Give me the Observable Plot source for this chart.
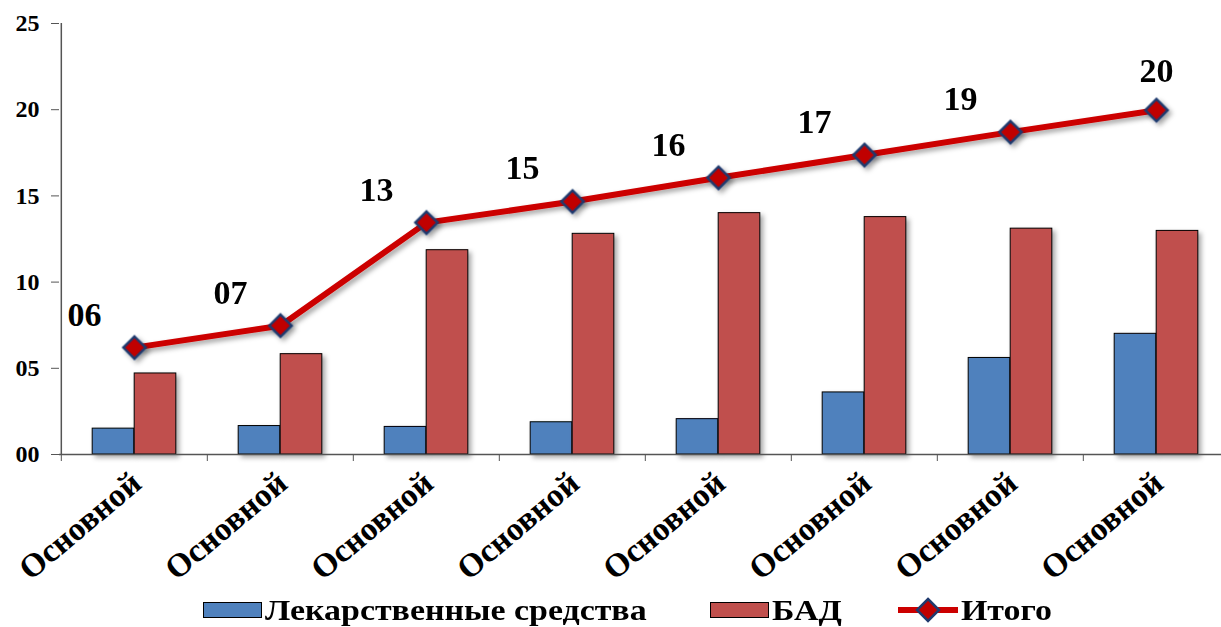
<!DOCTYPE html>
<html>
<head>
<meta charset="utf-8">
<script src="https://cdn.jsdelivr.net/npm/d3@7"></script>
<script src="https://cdn.jsdelivr.net/npm/@observablehq/plot@0.6"></script>
</head>
<body style="margin:0;padding:0;background:#fff">
<div id="chart" style="width:1221px;height:627px;position:relative;overflow:hidden"></div>
<script>
// Category labels (all bars share the same label)
const categories = ["Основной", "Основной", "Основной", "Основной", "Основной", "Основной", "Основной", "Основной"];
// Лекарственные средства
const drugs = [1.5, 1.65, 1.6, 1.87, 2.05, 3.6, 5.6, 7.0];
// БАД
const supplements = [4.7, 5.82, 11.85, 12.8, 14.0, 13.77, 13.1, 12.97];
// Итого = сумма двух рядов
const totals = drugs.map((d, i) => d + supplements[i]);
const yTicks = [0, 5, 10, 15, 20, 25];
const seriesNames = ["Лекарственные средства", "БАД", "Итого"];

const W = 1221, H = 592;
const ML = 59, MR = -9, MT = 23, MB = H - 454;
const band = (W - ML - MR) / categories.length;
const barW = 42;
const FONT = "'Liberation Serif', 'Times New Roman', serif";

const idx = d3.range(categories.length);
const rows = idx.map(i => ({i, drugs: drugs[i], supplements: supplements[i], total: totals[i]}));
const fmt2 = d3.format("02.0f");

const plot = Plot.plot({
  width: W, height: H,
  marginLeft: ML, marginRight: MR, marginTop: MT, marginBottom: MB,
  style: {color: "#000", background: "transparent"},
  x: {type: "band", domain: idx, padding: 0, axis: null, label: null},
  y: {domain: [0, 25], axis: null, label: null},
  marks: [
    // bars
    Plot.barY(rows, {x: "i", y: "drugs", fill: "#4f81bd", stroke: "#000", strokeWidth: 1,
      insetLeft: band / 2 - barW, insetRight: band / 2}),
    Plot.barY(rows, {x: "i", y: "supplements", fill: "#c0504d", stroke: "#000", strokeWidth: 1,
      insetLeft: band / 2, insetRight: band / 2 - barW}),
    // axes
    Plot.ruleY([0], {stroke: "#555", strokeWidth: 1.5}),
    Plot.ruleX([0], {x: d => d, y1: 0, y2: 25, dx: -band / 2, stroke: "#555", strokeWidth: 1.5}),
    Plot.axisY({ticks: yTicks, tickFormat: d3.format("02d"), tickSize: 8, tickPadding: 12,
      fontSize: 24, stroke: "#555", label: null}),
    Plot.axisX({tickSize: 7, text: null, dx: -band / 2, stroke: "#555", label: null}),
    Plot.axisX({tickSize: 0, tickPadding: 24, tickRotate: -40, fontSize: 33,
      tickFormat: i => categories[i], dx: 2, label: null}),
    // total line with markers
    Plot.line(rows, {x: "i", y: "total", stroke: "#cc0000", strokeWidth: 6}),
    Plot.dot(rows, {x: "i", y: "total", symbol: "diamond2", r: 10, fill: "#c00000", stroke: "#1f3a6e", strokeWidth: 2.5}),
    // value labels
    Plot.text(rows.slice(0, -1), {x: "i", y: "total", text: d => fmt2(d.total), dx: -50, dy: -33,
      fontSize: 34, fill: "#000"}),
    Plot.text(rows.slice(-1), {x: "i", y: "total", text: d => fmt2(d.total), dx: 0, dy: -39,
      fontSize: 34, fill: "#000"})
  ]
});

const svg = d3.select(plot);
// serif bold text throughout
svg.selectAll("text").style("font-family", FONT).style("font-weight", "bold");

// soft drop shadows under bars, line and markers
const defs = svg.insert("defs", ":first-child");
const f = defs.append("filter").attr("id", "shadow").attr("x", "-20%").attr("y", "-20%").attr("width", "150%").attr("height", "150%");
f.append("feDropShadow").attr("dx", 3).attr("dy", 3).attr("stdDeviation", 2.5).attr("flood-color", "#000").attr("flood-opacity", 0.35);
svg.selectAll('g[aria-label="bar"], g[aria-label="line"], g[aria-label="dot"]').attr("filter", "url(#shadow)");

const chart = document.getElementById("chart");
chart.appendChild(plot);

// legend
const legend = d3.select(chart).append("div")
  .style("position", "absolute").style("left", "0px").style("top", "592px")
  .style("width", "1221px").style("height", "35px")
  .style("font-family", FONT).style("font-weight", "bold").style("font-size", "30px").style("color", "#000");
const colors = ["#4f81bd", "#c0504d"];
const lefts = [203, 710, 897];
seriesNames.forEach((name, k) => {
  const item = legend.append("div")
    .style("position", "absolute").style("top", "0px").style("height", "35px")
    .style("left", lefts[k] + "px").style("display", "flex").style("align-items", "center")
    .style("white-space", "nowrap");
  if (k < 2) {
    item.append("div").style("width", "57px").style("height", "14px").style("border", "1px solid #000")
      .style("margin-right", "3px").style("background", colors[k]);
  } else {
    const s = item.append("svg").attr("width", 62).attr("height", 26).style("margin-right", "2px");
    s.append("line").attr("x1", 1).attr("x2", 61).attr("y1", 13).attr("y2", 13)
      .attr("stroke", "#cc0000").attr("stroke-width", 6);
    s.append("path").attr("d", "M31 2 L42 13 L31 24 L20 13 Z")
      .attr("fill", "#c00000").attr("stroke", "#1f3a6e").attr("stroke-width", 2.5);
  }
  item.append("span").text(name)
    .style("display", "inline-block").style("transform", "scaleX(1.13)").style("transform-origin", "left center");
});
</script>
</body>
</html>
